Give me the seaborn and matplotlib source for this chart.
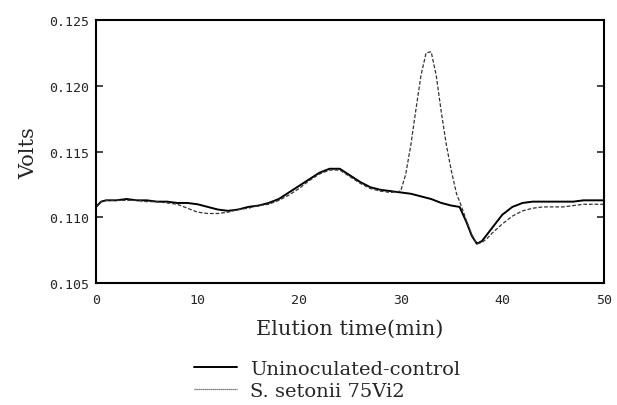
import numpy as np
import pandas as pd
import matplotlib
matplotlib.use("Agg")
import matplotlib.pyplot as plt
import seaborn as sns
from matplotlib.lines import Line2D

# elution time (min) and detector signal (V)
control_time = [0, 0.5, 1, 2, 3, 4, 5, 6, 7, 8, 9, 10, 11, 12, 13, 14, 15, 16,
                17, 18, 19, 20, 21, 22, 23, 24, 25, 26, 27, 28, 29, 30, 31, 32,
                33, 34, 35, 35.8, 36.5, 37, 37.5, 38, 38.5, 39, 40, 41, 42, 43,
                44, 45, 46, 47, 48, 49, 50]
control_volts = [0.1108, 0.1112, 0.1113, 0.1113, 0.1114, 0.1113, 0.1113, 0.1112,
                 0.1112, 0.1111, 0.1111, 0.1110, 0.1108, 0.1106, 0.1105, 0.1106,
                 0.1108, 0.1109, 0.1111, 0.1114, 0.1119, 0.1124, 0.1129, 0.1134,
                 0.1137, 0.1137, 0.1132, 0.1127, 0.1123, 0.1121, 0.1120, 0.1119,
                 0.1118, 0.1116, 0.1114, 0.1111, 0.1109, 0.1108, 0.1096, 0.1086,
                 0.1080, 0.1082, 0.1087, 0.1092, 0.1102, 0.1108, 0.1111, 0.1112,
                 0.1112, 0.1112, 0.1112, 0.1112, 0.1113, 0.1113, 0.1113]

strain_time = [0, 0.5, 1, 2, 3, 4, 5, 6, 7, 8, 9, 10, 11, 12, 13, 14, 15, 16,
               17, 18, 19, 20, 21, 22, 23, 24, 25, 26, 27, 28, 29, 30, 30.5, 31,
               31.5, 32, 32.5, 33, 33.5, 34, 34.5, 35, 35.5, 36, 36.5, 37, 37.5,
               38, 38.5, 39, 40, 41, 42, 43, 44, 45, 46, 47, 48, 49, 50]
strain_volts = [0.1108, 0.1112, 0.1113, 0.1113, 0.1113, 0.1113, 0.1112, 0.1112,
                0.1111, 0.1110, 0.1107, 0.1104, 0.1103, 0.1103, 0.1104, 0.1106,
                0.1107, 0.1109, 0.1110, 0.1113, 0.1117, 0.1122, 0.1128, 0.1133,
                0.1136, 0.1136, 0.1131, 0.1126, 0.1122, 0.1120, 0.1119, 0.1120,
                0.1133, 0.1155, 0.1182, 0.1208, 0.1225, 0.1226, 0.1208, 0.1180,
                0.1155, 0.1135, 0.1118, 0.1108, 0.1097, 0.1087, 0.1080, 0.1081,
                0.1084, 0.1088, 0.1095, 0.1101, 0.1105, 0.1107, 0.1108, 0.1108,
                0.1108, 0.1109, 0.1110, 0.1110, 0.1110]

series_names = ["Uninoculated-control", "S. setonii 75Vi2"]
y_ticks = [0.105, 0.110, 0.115, 0.120, 0.125]
x_ticks = [0, 10, 20, 30, 40, 50]

df = pd.concat([
    pd.DataFrame({"time": control_time, "volts": control_volts, "sample": series_names[0]}),
    pd.DataFrame({"time": strain_time, "volts": strain_volts, "sample": series_names[1]}),
])

sns.set_style("ticks")
plt.rcParams["font.family"] = ["DejaVu Sans Mono"]

fig = plt.figure(figsize=(6.17, 4.06), dpi=100)
ax = fig.add_axes([0.1556, 0.30, 0.823, 0.648])

sns.lineplot(data=df, x="time", y="volts", hue="sample", style="sample",
             palette=["black", "#333333"], dashes=[(1, 0), (3, 1.5)],
             ax=ax, legend=False, estimator=None, sort=False)
ax.lines[0].set_linewidth(1.4)
ax.lines[1].set_linewidth(0.9)

ax.set_xlim(0, 50)
ax.set_ylim(0.105, 0.125)
ax.set_xticks(x_ticks)
ax.set_yticks(y_ticks)
ax.set_yticklabels([f"{v:.3f}" for v in y_ticks])
ax.tick_params(axis="y", direction="in", length=5, width=1.2, right=True,
               labelsize=9.5, pad=5)
ax.tick_params(axis="x", length=0, labelsize=9.5, pad=7)
for s in ax.spines.values():
    s.set_linewidth(1.5)
    s.set_color("black")

serif = ["DejaVu Serif"]
ax.set_xlabel("Elution time(min)", family=serif, fontsize=15, labelpad=9)
ax.set_ylabel("Volts", family=serif, fontsize=15, labelpad=8)

handles = [Line2D([], [], color="black", lw=1.4),
           Line2D([], [], color="#555555", lw=0.9, ls=(0, (1, 0.6)))]
fig.legend(handles, series_names, loc="upper center", bbox_to_anchor=(0.53, 0.135),
           frameon=False, prop={"family": serif, "size": 14}, handlelength=2.2,
           handletextpad=0.7, labelspacing=0.2, borderpad=0)

fig.savefig("out.png", dpi=100)
